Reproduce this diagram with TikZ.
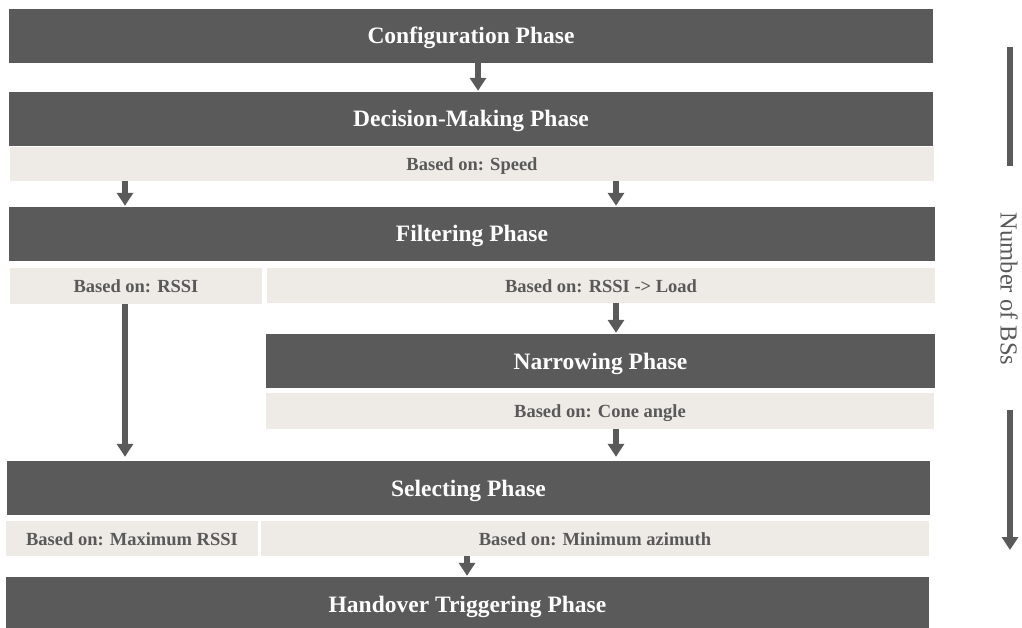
\documentclass[tikz,border=0pt]{standalone}
\usepackage{fontspec}
\setmainfont{Liberation Serif}
\usetikzlibrary{arrows.meta}
\definecolor{darkbox}{HTML}{5A5A5A}
\definecolor{lightbox}{HTML}{EEEBE6}
\definecolor{labeltext}{HTML}{595959}
\begin{document}
\begin{tikzpicture}[x=1pt,y=-1pt,
  phasebox/.style={fill=darkbox, draw=none, inner sep=0pt, text=white,
    font=\fontsize{23.5}{28}\selectfont\bfseries, text height=18.5pt, text depth=2.5pt},
  basebox/.style={fill=lightbox, draw=none, inner sep=0pt, text=labeltext,
    font=\fontsize{18.5}{22}\selectfont\bfseries, text height=15pt, text depth=2pt},
  arr/.style={draw=darkbox, line width=6pt, -{Triangle[width=16pt,length=13pt]}},
  bar/.style={draw=darkbox, line width=6pt}
]
\useasboundingbox (0,0) rectangle (1022,628);
\fill[white] (0,0) rectangle (1022,628);

\node[phasebox, minimum width=924pt, minimum height=54pt] (conf) at (471,36) {Configuration Phase};
\node[phasebox, minimum width=924pt, minimum height=54pt] (dec) at (471,119) {Decision-Making Phase};
\node[basebox, minimum width=924pt, minimum height=34pt] (spd) at (472,164) {Based on: Speed};
\node[phasebox, minimum width=926pt, minimum height=54pt] (filt) at (472,234) {Filtering Phase};
\node[basebox, minimum width=252pt, minimum height=36pt] (rssi) at (136,286) {Based on: RSSI};
\node[basebox, minimum width=668pt, minimum height=35pt] (load) at (601,285.5) {Based on: RSSI -> Load};
\node[phasebox, minimum width=669pt, minimum height=54pt] (narr) at (600.5,361) {Narrowing Phase};
\node[basebox, minimum width=668pt, minimum height=36pt] (cone) at (600,411) {Based on: Cone angle};
\node[phasebox, minimum width=923pt, minimum height=54pt] (sel) at (468.5,488) {Selecting Phase};
\node[basebox, minimum width=252pt, minimum height=35pt] (maxr) at (132,538.5) {Based on: Maximum RSSI};
\node[basebox, minimum width=668pt, minimum height=35pt] (azim) at (595,538.5) {Based on: Minimum azimuth};
\node[phasebox, minimum width=923pt, minimum height=54pt] (hand) at (467.5,604) {Handover Triggering Phase};

\coordinate (xa) at (478,0);
\coordinate (xb) at (125,0);
\coordinate (xc) at (616,0);
\coordinate (xd) at (467,0);

\draw[arr, shorten >=1pt] (conf.south -| xa) -- (dec.north -| xa);
\draw[arr, shorten >=1pt] (spd.south -| xb) -- (filt.north -| xb);
\draw[arr, shorten >=1pt] (spd.south -| xc) -- (filt.north -| xc);
\draw[arr, shorten >=1pt] (load.south -| xc) -- (narr.north -| xc);
\draw[arr, shorten >=4pt] (rssi.south -| xb) -- (sel.north -| xb);
\draw[arr, shorten >=4pt] (cone.south -| xc) -- (sel.north -| xc);
\draw[arr, shorten >=1pt] (azim.south -| xd) -- (hand.north -| xd);

\coordinate (bt) at (1010,47);
\coordinate (bb) at (1010,166);
\coordinate (at) at (1010,410);
\coordinate (ab) at (1010,550);
\draw[bar] (bt) -- (bb);
\node[rotate=-90, text=labeltext, font=\fontsize{24.5}{29}\selectfont] (nbs) at (1009,289) {Number of BSs};
\draw[arr] (at) -- (ab);
\end{tikzpicture}
\end{document}
